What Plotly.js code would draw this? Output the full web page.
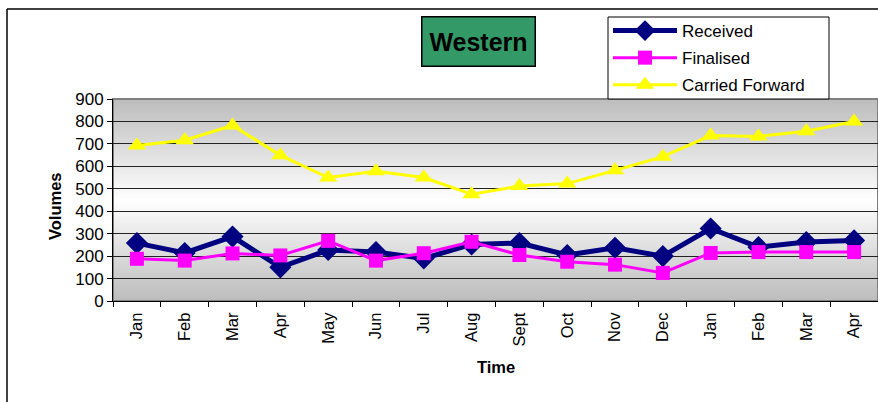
<!DOCTYPE html>
<html>
<head>
<meta charset="utf-8">
<script src="https://cdn.plot.ly/plotly-3.0.1.min.js"></script>
<style>
html,body{margin:0;padding:0;background:#fff;}
#chart{width:878px;height:402px;}
</style>
</head>
<body>
<div id="chart"></div>
<script>
// ---- data ----
const months = ['Jan','Feb','Mar','Apr','May','Jun','Jul','Aug','Sept','Oct','Nov','Dec','Jan','Feb','Mar','Apr'];
const received  = [258, 214, 287, 150, 227, 218, 190, 252, 258, 205, 237, 200, 323, 240, 263, 270];
const finalised = [188, 180, 212, 203, 268, 180, 213, 264, 205, 175, 162, 125, 214, 218, 218, 218];
const carried   = [693, 716, 782, 649, 550, 578, 550, 476, 512, 523, 582, 643, 737, 733, 756, 800];
const seriesNames = ['Received','Finalised','Carried Forward'];
const chartTitle = 'Western';
const xTitle = 'Time';
const yTitle = 'Volumes';
const yTicks = [0,100,200,300,400,500,600,700,800,900];

const xs = months.map((m,i)=>i);
const font = 'Arial, "Liberation Sans", sans-serif';

const traces = [
  {x: xs, y: received, name: seriesNames[0], type:'scatter', mode:'lines+markers', legendgroup:'a',
   line:{color:'#000080', width:5}, marker:{symbol:'diamond', size:17, color:'#000080'}},
  {x: xs, y: finalised, name: seriesNames[1], type:'scatter', mode:'lines+markers', legendgroup:'b',
   line:{color:'#FF00FF', width:3}, marker:{symbol:'square', size:14, color:'#FF00FF'}},
  {x: xs, y: carried, name: seriesNames[2], type:'scatter', mode:'lines+markers', legendgroup:'c',
   line:{color:'#FFFF00', width:3}, marker:{symbol:'triangle-up', size:16, color:'#FFFF00'}}
];

const svg = '<svg xmlns="http://www.w3.org/2000/svg" width="100" height="100" viewBox="0 0 100 100" preserveAspectRatio="none">' +
  '<defs><linearGradient id="g" x1="0" y1="0" x2="0" y2="1">' +
  '<stop offset="0" stop-color="#bcbcbc"/><stop offset="0.5" stop-color="#ffffff"/><stop offset="1" stop-color="#bcbcbc"/>' +
  '</linearGradient></defs><rect x="0" y="0" width="100" height="100" fill="url(#g)"/></svg>';

const L = 113, R = 878, T = 99, B = 301;
const px = v => (v - L) / (R - L);
const py = v => (B - v) / (B - T);

const layout = {
  width: 878, height: 402,
  margin: {l: L, r: 878 - R, t: T, b: 402 - B, pad: 0},
  paper_bgcolor: '#ffffff',
  plot_bgcolor: 'rgba(0,0,0,0)',
  font: {family: font, color: '#000'},
  showlegend: true,
  legend: {
    x: px(608), y: py(13), xanchor: 'left', yanchor: 'top',
    bgcolor: 'rgba(0,0,0,0)', borderwidth: 0,
    font: {family: font, size: 17, color: '#000'},
    tracegroupgap: 2, itemwidth: 64, entrywidth: 200
  },
  xaxis: {
    range: [-0.5, months.length - 0.5],
    tickmode: 'array', tickvals: xs, ticktext: months,
    tickangle: -90, ticks: '', showgrid: false, zeroline: false,
    tickfont: {family: font, size: 16.5, color: '#000'},
    ticklabelstandoff: 4,
    showline: true, linecolor: '#000', linewidth: 1,
    minor: {tickmode: 'linear', tick0: -0.5, dtick: 1, ticks: 'outside', ticklen: 5, tickcolor: '#000', showgrid: false},
    fixedrange: true
  },
  yaxis: {
    range: [0, 900], tickmode: 'array', tickvals: yTicks,
    ticks: 'outside', ticklen: 5, tickcolor: '#000',
    tickfont: {family: font, size: 17, color: '#000'},
    showline: true, linecolor: '#000', linewidth: 1,
    showgrid: true, gridcolor: '#222222', gridwidth: 1, zeroline: false,
    fixedrange: true
  },
  images: [{
    source: 'data:image/svg+xml;utf8,' + encodeURIComponent(svg),
    xref: 'paper', yref: 'paper', x: 0, y: 1, sizex: 1, sizey: 1,
    xanchor: 'left', yanchor: 'top', sizing: 'stretch', layer: 'below'
  }],
  shapes: [
    {type: 'rect', xref: 'paper', yref: 'paper', x0: 0, x1: 1, y0: 0, y1: 1,
     line: {color: '#808080', width: 2}, layer: 'below'},
    {type: 'line', xref: 'paper', yref: 'paper', x0: px(7), x1: px(7), y0: py(9), y1: py(402),
     line: {color: '#000', width: 1.5}},
    {type: 'line', xref: 'paper', yref: 'paper', x0: px(7), x1: px(878), y0: py(9), y1: py(9),
     line: {color: '#000', width: 1.5}},
    {type: 'rect', xref: 'paper', yref: 'paper', x0: px(608), x1: px(829), y0: py(99), y1: py(17),
     fillcolor: '#ffffff', line: {color: '#000', width: 1}, layer: 'above'}
  ],
  annotations: [
    {text: '<b>' + chartTitle + '</b>', xref: 'paper', yref: 'paper',
     x: px(478), y: py(42), xanchor: 'center', yanchor: 'middle', showarrow: false,
     font: {family: font, size: 25, color: '#000'},
     bgcolor: '#339966', bordercolor: '#000', borderwidth: 1.5, width: 110, height: 46},
    {text: '<b>' + xTitle + '</b>', xref: 'paper', yref: 'paper',
     x: px(496), y: py(367), xanchor: 'center', yanchor: 'middle', showarrow: false,
     font: {family: font, size: 16.5, color: '#000'}},
    {text: '<b>' + yTitle + '</b>', xref: 'paper', yref: 'paper',
     x: px(55), y: py(206), xanchor: 'center', yanchor: 'middle', showarrow: false, textangle: -90,
     font: {family: font, size: 16.5, color: '#000'}}
  ]
};

Plotly.newPlot('chart', traces, layout, {displayModeBar: false, staticPlot: true});
</script>
</body>
</html>
